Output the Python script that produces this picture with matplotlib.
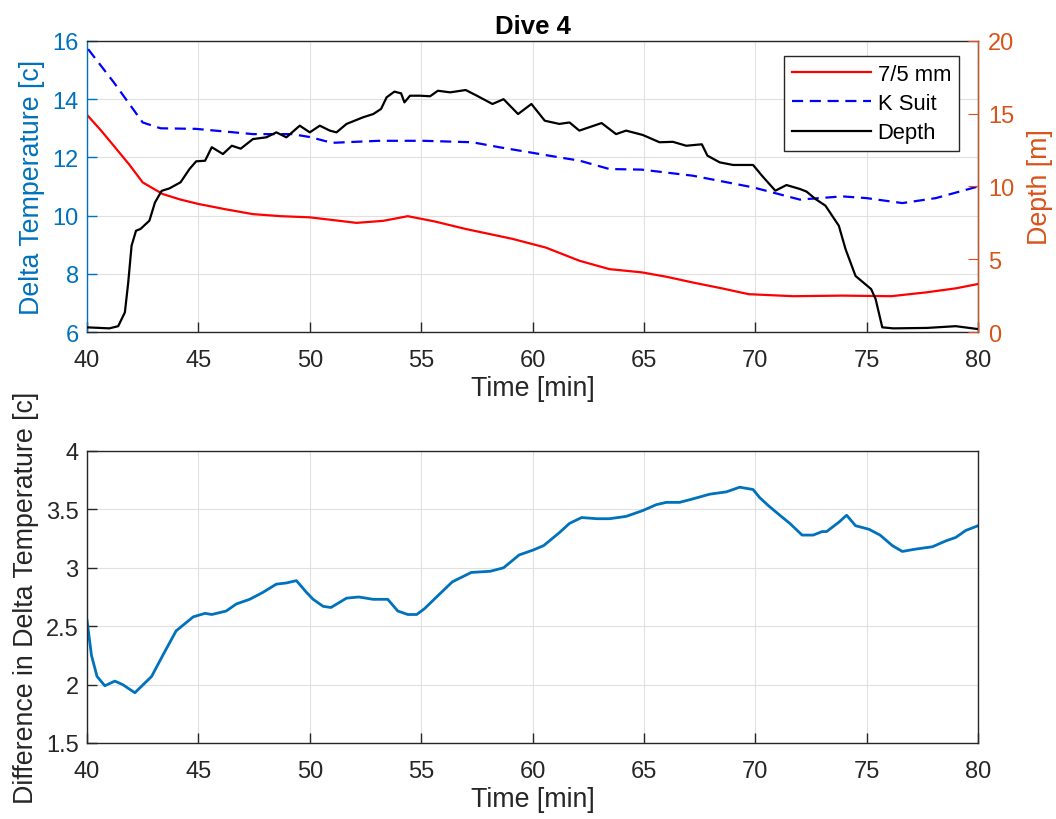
import numpy as np
import matplotlib.pyplot as plt

# 7/5 mm suit delta temperature
t_75 = [40.0, 40.6, 41.2, 41.9, 42.5, 43.4, 44.2, 45.0, 46.2, 47.45, 48.7, 50.0, 51.0,
        52.1, 53.3, 54.4, 55.6, 57.0, 59.1, 60.6, 62.1, 63.45, 64.9, 66.0, 67.2, 68.5,
        69.7, 71.7, 73.9, 76.1, 77.65, 79.0, 80.0]
temp_75 = [13.46, 12.95, 12.4, 11.75, 11.14, 10.74, 10.55, 10.4, 10.22, 10.05, 9.98, 9.94,
           9.85, 9.75, 9.82, 9.98, 9.8, 9.54, 9.2, 8.9, 8.45, 8.16, 8.05, 7.9, 7.7, 7.5,
           7.3, 7.23, 7.25, 7.23, 7.36, 7.5, 7.65]

# K suit delta temperature
t_k = [40.05, 41.2, 42.5, 43.3, 44.9, 47.45, 49.2, 50.0, 51.0, 53.1, 55.1, 57.3,
       58.5, 59.9, 61.2, 62.1, 63.45, 64.9, 67.2, 69.9, 72.0, 73.9, 75.0, 76.6,
       78.1, 80.0]
temp_k = [15.72, 14.58, 13.2, 13.0, 12.98, 12.8, 12.8, 12.7, 12.5, 12.57, 12.57, 12.52,
          12.35, 12.17, 12.0, 11.89, 11.6, 11.58, 11.37, 10.97, 10.55, 10.66, 10.6, 10.43,
          10.6, 11.0]

# depth
t_d = [40.0, 41.0, 41.4, 41.7, 41.85, 42.0, 42.2, 42.4, 42.8, 43.05, 43.35, 43.7,
       44.2, 44.6, 44.9, 45.3, 45.6, 46.1, 46.5, 46.9, 47.45, 48.05, 48.5, 48.95,
       49.55, 50.0, 50.45, 50.9, 51.2, 51.65, 52.4, 52.85, 53.2, 53.45, 53.8, 54.1,
       54.25, 54.5, 54.95, 55.4, 55.75, 56.3, 57.0, 57.5, 58.2, 58.7, 59.35, 59.95,
       60.55, 61.2, 61.66, 62.1, 63.1, 63.75, 64.2, 64.95, 65.7, 66.3, 66.9, 67.6,
       67.85, 68.4, 69.0, 69.9, 70.3, 70.9, 71.4, 72.0, 72.3, 72.7, 73.15, 73.75,
       74.05, 74.5, 75.2, 75.4, 75.7, 76.2, 77.7, 79.0, 80.0]
depth = [0.32, 0.25, 0.4, 1.35, 3.4, 5.93, 6.96, 7.08, 7.65, 8.9, 9.7, 9.87,
         10.29, 11.2, 11.73, 11.77, 12.7, 12.23, 12.8, 12.6, 13.26, 13.38, 13.72, 13.38,
         14.18, 13.72, 14.18, 13.84, 13.72, 14.3, 14.76, 14.98, 15.33, 16.13, 16.52, 16.4,
         15.78, 16.24, 16.24, 16.2, 16.58, 16.47, 16.63, 16.24, 15.67, 16.0, 14.98, 15.67,
         14.52, 14.3, 14.4, 13.84, 14.36, 13.6, 13.84, 13.54, 13.04, 13.07, 12.8, 12.9,
         12.12, 11.66, 11.48, 11.48, 10.74, 9.71, 10.1, 9.83, 9.65, 9.14, 8.68, 7.3,
         5.7, 3.85, 2.95, 2.27, 0.32, 0.25, 0.28, 0.4, 0.2]

# difference between suits
t_diff = [40.0, 40.2, 40.45, 40.8, 41.25, 41.6, 42.15, 42.9, 43.4, 44.0, 44.77, 45.3,
          45.6, 46.25, 46.7, 47.3, 47.9, 48.5, 48.95, 49.4, 49.85, 50.15, 50.6, 50.95,
          51.65, 52.2, 52.85, 53.5, 53.95, 54.4, 54.8, 55.15, 55.8, 56.4, 57.25, 58.1,
          58.7, 59.4, 60.0, 60.5, 61.2, 61.66, 62.2, 62.9, 63.45, 64.2, 64.95, 65.55,
          66.0, 66.6, 67.2, 67.95, 68.7, 69.3, 69.9, 70.2, 70.6, 71.1, 71.55, 72.1,
          72.6, 73.0, 73.2, 73.75, 74.1, 74.5, 75.1, 75.6, 76.15, 76.6, 77.2, 77.95,
          78.55, 79.0, 79.45, 80.0]
diff = [2.55, 2.25, 2.07, 1.99, 2.03, 2.0, 1.93, 2.07, 2.25, 2.46, 2.58, 2.61,
        2.6, 2.63, 2.69, 2.73, 2.79, 2.86, 2.87, 2.89, 2.79, 2.73, 2.67, 2.66,
        2.74, 2.75, 2.73, 2.73, 2.63, 2.6, 2.6, 2.65, 2.77, 2.88, 2.96, 2.97,
        3.0, 3.11, 3.15, 3.19, 3.3, 3.38, 3.43, 3.42, 3.42, 3.44, 3.49, 3.54,
        3.56, 3.56, 3.59, 3.63, 3.65, 3.69, 3.67, 3.6, 3.53, 3.45, 3.38, 3.28,
        3.28, 3.31, 3.31, 3.39, 3.45, 3.36, 3.33, 3.28, 3.19, 3.14, 3.16, 3.18,
        3.23, 3.26, 3.32, 3.36]

plt.rcParams['font.family'] = ['Liberation Sans', 'DejaVu Sans']
plt.rcParams['font.size'] = 17

BLUE = '#0072BD'
ORANGE = '#D95319'
DARK = '#262626'
TICK_FS = 17
LABEL_FS = 19.3


def style_axes(ax):
    ax.tick_params(direction='in', length=7, width=1, colors=DARK, labelcolor=DARK,
                   labelsize=TICK_FS)
    ax.tick_params(axis='x', pad=12)
    ax.tick_params(axis='y', pad=6)
    ax.grid(True, color='#e0e0e0', linewidth=0.8)
    for s in ax.spines.values():
        s.set_color(DARK)
        s.set_linewidth(1)


fig = plt.figure(figsize=(10.56, 8.2), dpi=100)

# top panel
ax1 = fig.add_axes([0.0824, 0.5939, 0.8438, 0.3549])
style_axes(ax1)
l1, = ax1.plot(t_75, temp_75, color='red', linewidth=1.6, label='7/5 mm')
l2, = ax1.plot(t_k, temp_k, color='blue', linewidth=1.6, linestyle=(0, (5, 3)), label='K Suit')
ax1.set_xlim(40, 80)
ax1.set_ylim(6, 16)
ax1.set_xticks(np.arange(40, 81, 5))
ax1.set_yticks(np.arange(6, 17, 2))
ax1.tick_params(axis='y', colors=BLUE, labelcolor=BLUE)
ax1.spines['left'].set_color(BLUE)
ax1.set_ylabel('Delta Temperature [c]', color=BLUE, fontsize=LABEL_FS, labelpad=5)
ax1.set_xlabel('Time [min]', color=DARK, fontsize=LABEL_FS, labelpad=3)
ax1.set_title('Dive 4', fontweight='bold', fontsize=18.5, color='black', pad=6)

ax2 = ax1.twinx()
l3, = ax2.plot(t_d, depth, color='black', linewidth=1.6, label='Depth')
ax2.set_ylim(0, 20)
ax2.set_yticks(np.arange(0, 21, 5))
ax2.tick_params(axis='y', direction='in', length=7, colors=ORANGE, labelcolor=ORANGE,
                labelsize=TICK_FS, pad=7)
for s in ax2.spines.values():
    s.set_visible(False)
ax2.spines['right'].set_visible(True)
ax2.spines['right'].set_color(ORANGE)
ax2.set_ylabel('Depth [m]', color=ORANGE, fontsize=LABEL_FS, labelpad=9)

leg = ax2.legend(handles=[l1, l2, l3], loc='upper right', bbox_to_anchor=(0.9785, 0.948),
                 fontsize=15.8, frameon=True, fancybox=False, edgecolor=DARK,
                 framealpha=1, handlelength=3.6, handletextpad=0.3, borderpad=0.35,
                 labelspacing=0.38, borderaxespad=0)
leg.get_frame().set_linewidth(1)

# bottom panel
ax3 = fig.add_axes([0.0824, 0.0927, 0.8438, 0.3561])
style_axes(ax3)
ax3.plot(t_diff, diff, color=BLUE, linewidth=2)
ax3.set_xlim(40, 80)
ax3.set_ylim(1.5, 4)
ax3.set_xticks(np.arange(40, 81, 5))
ax3.set_yticks(np.arange(1.5, 4.01, 0.5))
ax3.set_yticklabels(['1.5', '2', '2.5', '3', '3.5', '4'])
ax3.set_ylabel('Difference in Delta Temperature [c]', color=DARK, fontsize=LABEL_FS,
               labelpad=5)
ax3.set_xlabel('Time [min]', color=DARK, fontsize=LABEL_FS, labelpad=3)

fig.savefig('out.png', dpi=100)
